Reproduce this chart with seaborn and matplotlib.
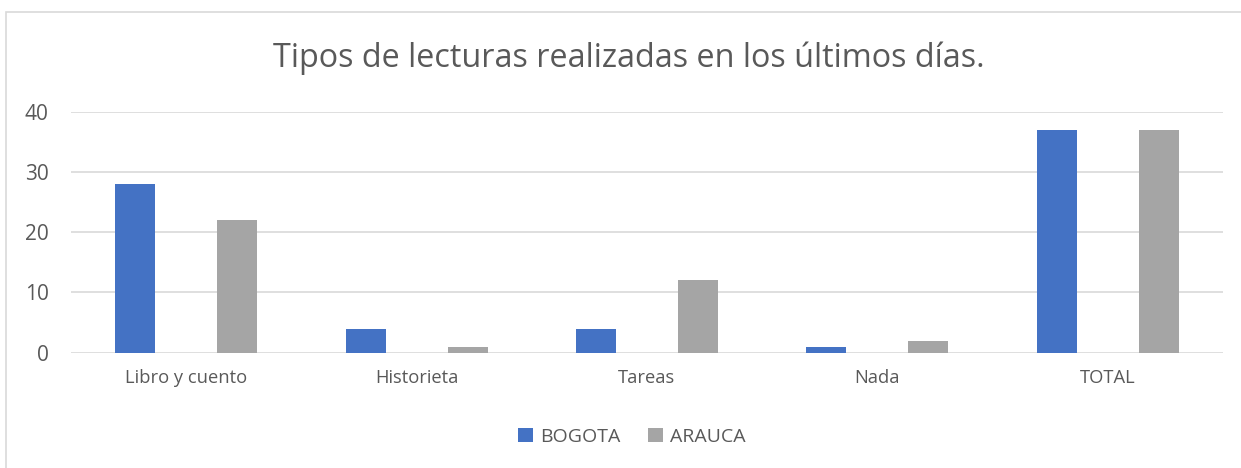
import numpy as np
import pandas as pd
import matplotlib
matplotlib.use('Agg')
import matplotlib.pyplot as plt
import seaborn as sns
from matplotlib.patches import Rectangle, Patch

sns.set_theme(style="white")
plt.rcParams['font.family'] = ['Open Sans', 'DejaVu Sans']

# Data
categories = ["Libro y cuento", "Historieta", "Tareas", "Nada", "TOTAL"]
bogota = [28, 4, 4, 1, 37]
arauca = [22, 1, 12, 2, 37]
series = ["BOGOTA", "ARAUCA"]
colors = ["#4472C4", "#A5A5A5"]

df = pd.DataFrame({
    "categoria": categories * 2,
    "valor": bogota + arauca,
    "serie": [series[0]] * len(categories) + [series[1]] * len(categories),
})

W, H = 1241, 468
fig = plt.figure(figsize=(W / 100, H / 100), dpi=100, facecolor='white')
ax = fig.add_axes([71 / W, 1 - 352.7 / H, (1223 - 71) / W, (352.7 - 111.7) / H])

sns.barplot(data=df, x="categoria", y="valor", hue="serie", palette=colors,
            width=0.885, gap=0.607, ax=ax, legend=False, saturation=1, linewidth=0)

ax.set_ylim(0, 40)
ax.set_xlim(-0.5, len(categories) - 0.5)
ax.set_yticks([0, 10, 20, 30, 40])
ax.yaxis.grid(True, color='#D9D9D9', linewidth=1.2)
ax.set_axisbelow(True)
for s in ax.spines.values():
    s.set_visible(False)
ax.set_xlabel("")
ax.set_ylabel("")
ax.tick_params(axis='both', length=0, colors='#595959')
ax.tick_params(axis='x', pad=12, labelsize=13.2)
ax.tick_params(axis='y', pad=16, labelsize=15)

fig.text(629 / W, 1 - 58 / H, "Tipos de lecturas realizadas en los últimos días.",
         ha='center', va='center', fontsize=23.3, color='#595959')

handles = [Patch(facecolor=c, edgecolor='none') for c in colors]
fig.legend(handles, series, loc='center', bbox_to_anchor=(632 / W, 1 - 437 / H),
           ncol=2, frameon=False, fontsize=14, labelcolor='#595959',
           handlelength=0.75, handleheight=0.75, handletextpad=0.4, columnspacing=1.4)

fig.patches.append(Rectangle((6 / W, -0.1), 1.2, 1 - 12 / H + 0.1, transform=fig.transFigure,
                             fill=False, edgecolor='#D9D9D9', linewidth=1.2))

fig.savefig("out.png", dpi=100, facecolor='white')
